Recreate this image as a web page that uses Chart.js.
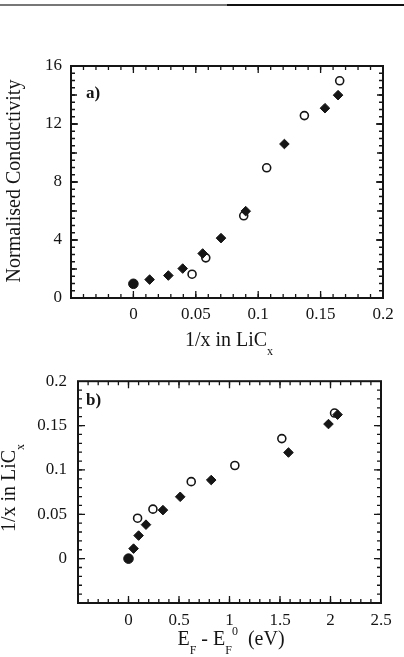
<!DOCTYPE html>
<html><head><meta charset="utf-8">
<script src="https://cdn.jsdelivr.net/npm/chart.js@4.4.1/dist/chart.umd.min.js"></script>
<style>
html,body{margin:0;padding:0;background:#fff;width:404px;height:657px;overflow:hidden;position:relative;}
#ca{position:absolute;left:0;top:0;}
#cb{position:absolute;left:0;top:360px;}
.rule{position:absolute;top:4px;height:2px;}
</style></head><body>
<div class="rule" style="left:0;width:227px;background:#777"></div>
<div class="rule" style="left:227px;width:177px;background:#111"></div>
<canvas id="ca" width="404" height="360"></canvas>
<canvas id="cb" width="404" height="297"></canvas>
<script>
// ---- Panel a) data: Normalised Conductivity vs 1/x in LiCx ----
const condFilledX = [0, 0.013, 0.028, 0.0395, 0.0555, 0.0702, 0.0900, 0.121, 0.1535, 0.1640];
const condFilledY = [0.98, 1.27, 1.55, 2.03, 3.07, 4.13, 5.99, 10.62, 13.09, 13.99];
const condOpenX = [0.047, 0.058, 0.0884, 0.1068, 0.137, 0.1653];
const condOpenY = [1.64, 2.77, 5.67, 8.98, 12.58, 14.98];
const condXTicks = [0, 0.05, 0.1, 0.15, 0.2];
const condYTicks = [0, 4, 8, 12, 16];

// ---- Panel b) data: 1/x in LiCx vs EF - EF0 (eV) ----
const energyFilledX = [0.0, 0.05, 0.10, 0.173, 0.341, 0.512, 0.819, 1.584, 1.98, 2.07];
const energyFilledY = [0.0, 0.0113, 0.026, 0.0383, 0.0547, 0.0697, 0.0886, 0.1196, 0.1517, 0.1623];
const energyOpenX = [0.09, 0.242, 0.621, 1.053, 1.518, 2.04];
const energyOpenY = [0.0456, 0.0558, 0.0868, 0.105, 0.1353, 0.1641];
const energyXTicks = [0, 0.5, 1, 1.5, 2, 2.5];
const energyYTicks = [0, 0.05, 0.1, 0.15, 0.2];

const FAMILY = '"Liberation Serif", "DejaVu Serif", serif';
const INK = '#151515';

function pts(xs, ys) { return xs.map((x, i) => ({x, y: ys[i]})); }

const framePlugin = {
  id: 'frame',
  beforeDatasetsDraw(chart, args, o) {
    const {ctx, chartArea: a} = chart;
    const xs = chart.scales.x, ys = chart.scales.y;
    ctx.save();
    ctx.strokeStyle = INK;
    ctx.lineWidth = 1.3;
    o.xMarks.forEach(([step, len]) => {
      const n = Math.round((xs.max - xs.min) / step);
      for (let i = 1; i < n; i++) {
        const p = xs.getPixelForValue(xs.min + i * step);
        ctx.beginPath();
        ctx.moveTo(p, a.bottom); ctx.lineTo(p, a.bottom - len);
        ctx.moveTo(p, a.top); ctx.lineTo(p, a.top + len);
        ctx.stroke();
      }
    });
    o.yMarks.forEach(([step, len]) => {
      const n = Math.round((ys.max - ys.min) / step);
      for (let i = 1; i < n; i++) {
        const p = ys.getPixelForValue(ys.min + i * step);
        ctx.beginPath();
        ctx.moveTo(a.left, p); ctx.lineTo(a.left + len, p);
        ctx.moveTo(a.right, p); ctx.lineTo(a.right - len, p);
        ctx.stroke();
      }
    });
    ctx.lineWidth = 2;
    ctx.strokeRect(a.left, a.top, a.right - a.left, a.bottom - a.top);
    ctx.restore();
  }
};

function drawRich(ctx, parts, cx, cy, size) {
  const sub = Math.round(size * 0.58);
  const ws = parts.map(p => {
    ctx.font = ((p.sub || p.sup) ? sub : size) + 'px ' + FAMILY;
    return ctx.measureText(p.t).width;
  });
  const total = ws.reduce((s, w) => s + w, 0);
  let x = cx - total / 2;
  ctx.textAlign = 'left';
  ctx.textBaseline = 'alphabetic';
  parts.forEach((p, i) => {
    ctx.font = ((p.sub || p.sup) ? sub : size) + 'px ' + FAMILY;
    const dy = p.sub ? size * 0.45 : (p.sup ? -size * 0.52 : 0);
    ctx.fillText(p.t, x, cy + dy);
    x += ws[i];
  });
}

const textPlugin = {
  id: 'texts',
  afterDraw(chart, args, o) {
    const {ctx} = chart;
    ctx.save();
    ctx.fillStyle = INK;
    drawRich(ctx, o.xTitle, o.xPos[0], o.xPos[1], o.size);
    ctx.save();
    ctx.translate(o.yPos[0], o.yPos[1]);
    ctx.rotate(-Math.PI / 2);
    drawRich(ctx, o.yTitle, 0, 0, o.size);
    ctx.restore();
    ctx.font = 'bold 17px ' + FAMILY;
    ctx.textAlign = 'left';
    ctx.fillText(o.panel, o.panelPos[0], o.panelPos[1]);
    ctx.restore();
  }
};

function makeChart(id, cfg) {
  return new Chart(document.getElementById(id), {
    type: 'scatter',
    data: {
      datasets: [
        {
          data: pts(cfg.fx, cfg.fy),
          backgroundColor: INK, borderColor: INK, borderWidth: 1,
          pointStyle: cfg.fx.map((v, i) => i === 0 ? 'circle' : 'rectRot'),
          pointRadius: cfg.fx.map((v, i) => i === 0 ? 4.8 : 4.8)
        },
        {
          data: pts(cfg.ox, cfg.oy),
          backgroundColor: '#fff', borderColor: INK, borderWidth: 1.6,
          pointStyle: 'circle', pointRadius: 4
        }
      ]
    },
    options: {
      responsive: false, animation: false, events: [],
      layout: {padding: cfg.pad},
      plugins: {
        legend: {display: false}, tooltip: {enabled: false},
        frame: {xMarks: cfg.xMarks, yMarks: cfg.yMarks},
        texts: cfg.texts
      },
      scales: {
        x: {
          type: 'linear', min: cfg.xr[0], max: cfg.xr[1],
          grid: {display: false, drawTicks: false},
          border: {display: false},
          afterBuildTicks: s => { s.ticks = cfg.xt.map(v => ({value: v})); },
          afterFit: s => { s.height = cfg.xh; },
          ticks: {padding: cfg.xpad, color: INK, font: {family: FAMILY, size: 17}, maxRotation: 0,
                  callback: v => String(v)}
        },
        y: {
          type: 'linear', min: cfg.yr[0], max: cfg.yr[1],
          grid: {display: false, drawTicks: false},
          border: {display: false},
          afterBuildTicks: s => { s.ticks = cfg.yt.map(v => ({value: v})); },
          afterFit: s => { s.width = cfg.yw; },
          ticks: {padding: cfg.ypad, color: INK, font: {family: FAMILY, size: 17},
                  callback: v => String(v)}
        }
      }
    },
    plugins: [framePlugin, textPlugin]
  });
}

makeChart('ca', {
  fx: condFilledX, fy: condFilledY, ox: condOpenX, oy: condOpenY,
  xt: condXTicks, yt: condYTicks,
  xr: [-0.05, 0.2], yr: [0, 16],
  pad: {top: 66, right: 21, left: 0, bottom: 0},
  yw: 71, xh: 62, xpad: 6, ypad: 9,
  xMarks: [[0.01, 4], [0.05, 7]],
  yMarks: [[0.5, 4], [2, 6], [4, 7]],
  texts: {
    size: 20,
    xTitle: [{t: '1/x in LiC'}, {t: 'x', sub: true}], xPos: [229, 346],
    yTitle: [{t: 'Normalised Conductivity'}], yPos: [20, 181],
    panel: 'a)', panelPos: [86, 98]
  }
});

makeChart('cb', {
  fx: energyFilledX, fy: energyFilledY, ox: energyOpenX, oy: energyOpenY,
  xt: energyXTicks, yt: energyYTicks,
  xr: [-0.5, 2.5], yr: [-0.05, 0.2],
  pad: {top: 13, right: 23, left: 0, bottom: 0},
  yw: 78, xh: 54, xpad: 7, ypad: 11,
  xMarks: [[0.1, 4], [0.5, 7]],
  yMarks: [[0.01, 4], [0.05, 7]],
  texts: {
    size: 20,
    xTitle: [{t: 'E'}, {t: 'F', sub: true}, {t: ' - E'}, {t: 'F', sub: true}, {t: '0', sup: true}, {t: '  (eV)'}],
    xPos: [231, 285],
    yTitle: [{t: '1/x in LiC'}, {t: 'x', sub: true}], yPos: [15, 128],
    panel: 'b)', panelPos: [86, 45]
  }
});
</script>
</body></html>
